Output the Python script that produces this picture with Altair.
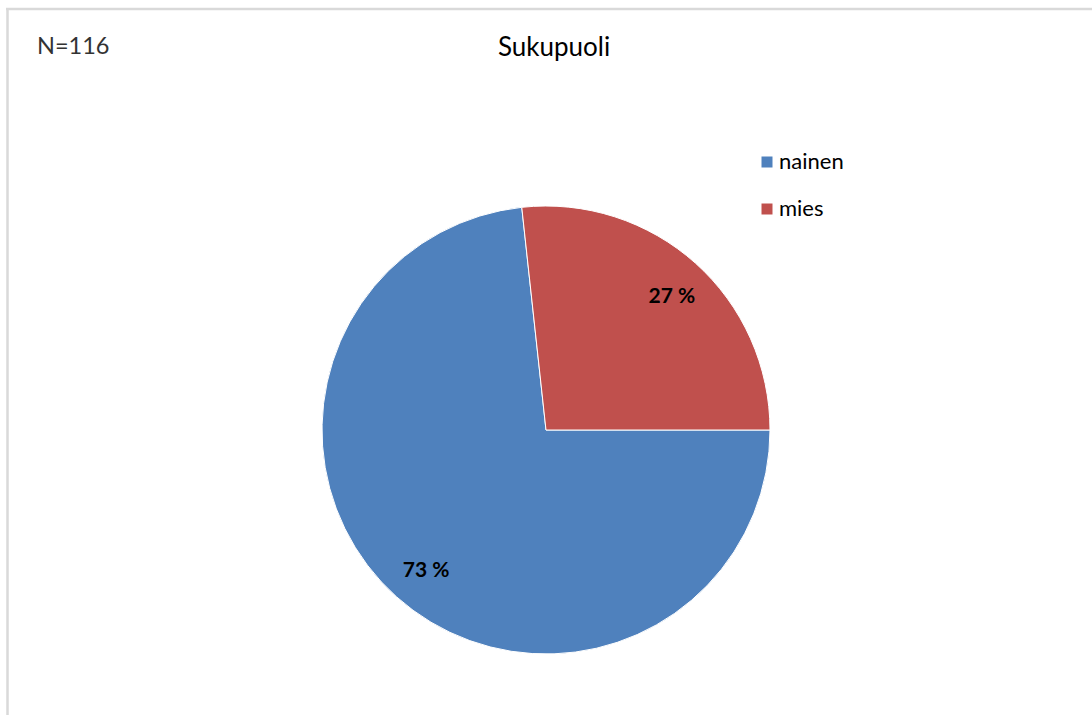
import altair as alt
import pandas as pd

categories = ["nainen", "mies"]
values = [85, 31]
labels = ["73 %", "27 %"]
colors = ["#4F81BD", "#C0504D"]
title_text = "Sukupuoli"
n_text = "N=116"

df = pd.DataFrame({"cat": categories, "val": values, "lab": labels, "order": [0, 1]})

W, H = 1092, 715
cx, cy, R = 546, 430, 224
FONT = "Lato"

color_scale = alt.Scale(domain=categories, range=colors)
theta_scale = alt.Scale(range=[1.5707963, 1.5707963 + 6.2831853])

base = alt.Chart(df).encode(
    theta=alt.Theta("val:Q", stack=True, scale=theta_scale),
    order=alt.Order("order:Q"),
)

arcs = base.mark_arc(outerRadius=R, stroke="white", strokeWidth=1).encode(
    color=alt.Color("cat:N", scale=color_scale, legend=None),
    x=alt.value(cx), y=alt.value(cy),
)

arc_labels = base.mark_text(radius=184, font=FONT, fontSize=21, fontWeight="bold", color="black").encode(
    text="lab:N", x=alt.value(cx + 3), y=alt.value(cy + 4),
)

leg_y = alt.Y("cat:N", scale=alt.Scale(type="point", domain=categories, range=[162, 209], padding=0), axis=None)
leg_sq = alt.Chart(df).mark_square(size=121, opacity=1).encode(
    x=alt.value(767), y=leg_y,
    color=alt.Color("cat:N", scale=color_scale, legend=None),
)
leg_txt = alt.Chart(df).mark_text(align="left", baseline="middle", font=FONT, fontSize=22, color="black").encode(
    x=alt.value(779), y=leg_y, text="cat:N",
)

title = alt.Chart(pd.DataFrame({"t": [title_text]})).mark_text(
    align="center", baseline="middle", font=FONT, fontSize=26, color="black"
).encode(x=alt.value(554), y=alt.value(48), text="t:N")
ntext = alt.Chart(pd.DataFrame({"t": [n_text]})).mark_text(
    align="left", baseline="middle", font=FONT, fontSize=23.5, color="#333333"
).encode(x=alt.value(37), y=alt.value(47), text="t:N")

border_l = alt.Chart(pd.DataFrame({"a": [0]})).mark_rule(color="#D9D9D9", strokeWidth=2.5).encode(
    x=alt.value(7.5), y=alt.value(8), y2=alt.value(H)
)
border_t = alt.Chart(pd.DataFrame({"a": [0]})).mark_rule(color="#D9D9D9", strokeWidth=2.5).encode(
    y=alt.value(9), x=alt.value(6), x2=alt.value(W)
)

chart = alt.layer(border_l, border_t, arcs, arc_labels, leg_sq, leg_txt, title, ntext).properties(
    width=W, height=H, autosize=alt.AutoSizeParams(type="none"), padding=0, background="white"
).configure_view(stroke=None)

chart.save("out.html", embed_options={"renderer": "svg", "actions": False})
